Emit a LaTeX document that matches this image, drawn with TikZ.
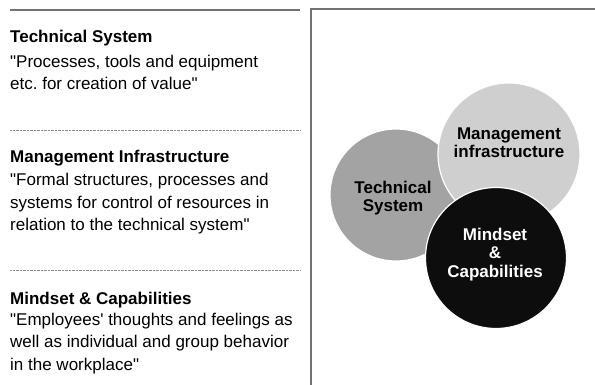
\documentclass[tikz,border=0pt]{standalone}
\usepackage{fontspec}
% straight quote marks are printed, so no TeX quote ligatures
\setmainfont{Liberation Sans}[Ligatures=TeXOff]
\begin{document}
\frenchspacing
\begin{tikzpicture}[x=1pt,y=-1pt,
  rulesolid/.style={draw=black!55,line width=1.3pt},
  ruledotted/.style={draw=black!45,line width=0.8pt,dash pattern=on 0.8pt off 0.6pt},
  heading/.style={anchor=base west,inner sep=0pt,font=\fontsize{17}{20}\selectfont\bfseries},
  body/.style={anchor=base west,inner sep=0pt,align=left,font=\fontsize{17}{22.5}\selectfont},
  bubble/.style={circle,draw=white,line width=1.2pt,inner sep=0pt},
  bubbletext/.style={anchor=base,inner sep=0pt,align=center,
    font=\fontsize{17}{18.7}\selectfont\bfseries}]
  \useasboundingbox[fill=white] (0,0) rectangle (595,385);

  % left column: rules
  \coordinate (r1a) at (10,10);  \coordinate (r1b) at (300,10);
  \coordinate (r2a) at (10,130); \coordinate (r2b) at (300,130);
  \coordinate (r3a) at (10,270); \coordinate (r3b) at (300,270);
  \draw[rulesolid] (r1a) -- (r1b);
  \draw[ruledotted] (r2a) -- (r2b);
  \draw[ruledotted] (r3a) -- (r3b);

  % left column: descriptions (body nodes sit on the baseline of their last line)
  \node[heading] (h1) at (10,43) {Technical System};
  \node[body] (b1) at (10,90) {"Processes, tools and equipment\\etc. for creation of value"};
  \node[heading] (h2) at (10,163) {Management Infrastructure};
  \node[body] (b2) at (10,231) {"Formal structures, processes and\\systems for control of resources in\\relation to the technical system"};
  \node[heading] (h3) at (10,304) {Mindset \& Capabilities};
  \node[body] (b3) at (10,370) {"Employees' thoughts and feelings as\\well as individual and group behavior\\in the workplace"};

  % right panel frame
  \coordinate (fa) at (311,385);
  \coordinate (fb) at (311,9);
  \coordinate (fc) at (595,9);
  \draw[rulesolid] (fa) -- (fb) -- (fc);

  % overlapping circles, back to front
  \node[bubble,fill=black!36,minimum size=132pt] (tech) at (396,195) {};
  \node[bubbletext] (techlabel) at (393,212) {Technical\\System};
  \node[bubble,fill=black!19,minimum size=142pt] (mgmt) at (509,154) {};
  \node[bubbletext] (mgmtlabel) at (509,158) {Management\\infrastructure};
  \node[bubble,fill=black!95,minimum size=141pt] (mind) at (496,258) {};
  \node[bubbletext,text=white,font=\fontsize{17}{18.5}\selectfont\bfseries] (mindlabel) at (495,277) {Mindset\\\&\\Capabilities};
\end{tikzpicture}
\end{document}
